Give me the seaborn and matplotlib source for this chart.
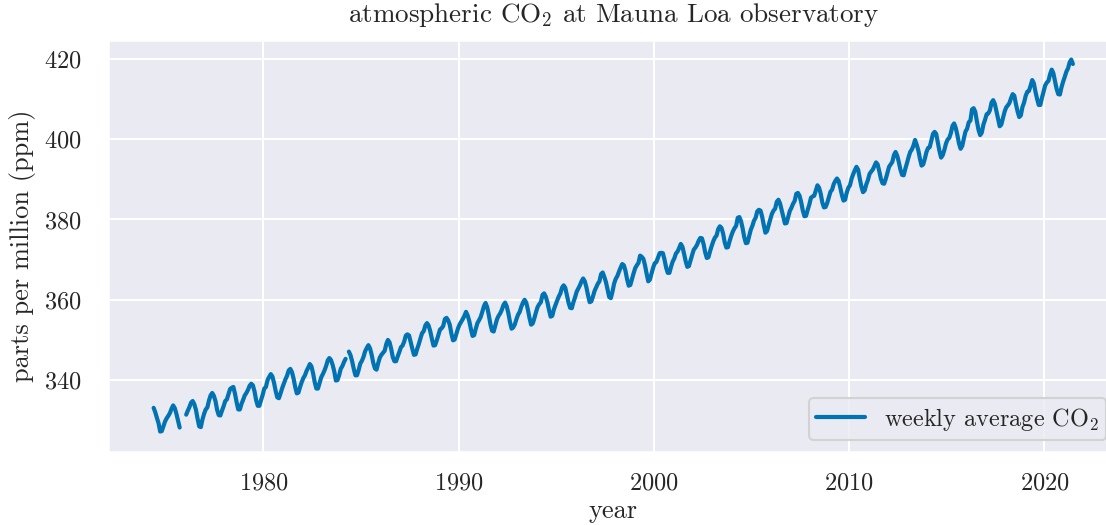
import numpy as np
import pandas as pd
import matplotlib.pyplot as plt
import seaborn as sns

nan = np.nan

# monthly CO2 (ppm), Jan..Dec; NaN = missing weeks
co2_1970s = [
    nan, nan, nan, nan, 333.1, 332.0, 330.6, 329.3, 327.2, 327.3, 328.5, 329.7,  # 1974
    330.5, 331.1, 331.8, 332.9, 333.7, 333.0, 331.6, 329.9, 328.2, nan, nan, nan,  # 1975
    331.4, 332.4, 333.3, 334.4, 334.8, 334.0, 332.6, 330.4, 328.5, 328.3, 330.2, 331.6,  # 1976
    332.7, 333.2, 334.9, 336.2, 336.8, 336.1, 334.8, 332.6, 331.3, 331.2, 332.4, 333.5,  # 1977
    334.8, 335.2, 336.5, 337.8, 338.1, 338.3, 336.6, 334.5, 332.7, 332.7, 334.1, 335.1,  # 1978
    336.2, 336.8, 337.6, 338.6, 339.1, 338.7, 337.2, 335.0, 333.6, 333.6, 335.0, 336.3,  # 1979
]
co2_1980s = [
    337.9, 338.3, 340.0, 340.8, 341.5, 340.9, 339.3, 337.3, 335.7, 335.5, 336.7, 338.0,
    339.1, 340.2, 341.1, 342.4, 342.8, 342.0, 340.4, 338.3, 336.7, 336.9, 338.3, 339.5,
    340.5, 341.2, 342.3, 343.1, 344.0, 343.4, 341.7, 339.5, 337.9, 337.9, 339.3, 340.7,
    341.5, 342.4, 343.5, 344.9, 345.5, 345.0, 343.8, 342.2, 339.9, 340.0, 341.2, 342.8,
    343.5, 344.5, 345.3, nan, 347.1, 346.2, 344.7, 342.8, 341.2, 341.2, 342.5, 344.1,
    344.8, 345.8, 347.2, 348.0, 348.7, 347.9, 346.3, 344.3, 342.9, 342.6, 344.2, 345.6,
    346.3, 346.8, 347.3, 349.0, 350.0, 349.4, 347.8, 345.7, 344.7, 344.7, 345.9, 347.0,
    348.2, 348.6, 349.6, 351.1, 351.4, 351.1, 349.4, 347.8, 346.3, 346.4, 347.8, 349.0,
    350.4, 351.7, 352.2, 353.6, 354.2, 353.6, 352.2, 350.3, 348.6, 348.7, 349.9, 351.2,
    352.6, 352.9, 353.5, 355.2, 355.5, 354.9, 353.8, 351.6, 349.9, 350.1, 351.4, 352.8,
]
co2_1990s = [
    353.8, 354.5, 355.2, 356.0, 357.0, 356.1, 354.7, 352.7, 351.0, 351.2, 352.8, 354.2,
    354.9, 355.7, 357.0, 358.4, 359.2, 358.2, 356.2, 353.9, 352.3, 352.1, 353.6, 355.1,
    356.0, 356.6, 357.5, 358.7, 359.3, 358.4, 356.7, 354.5, 352.8, 353.1, 353.9, 355.2,
    356.3, 357.0, 358.3, 359.3, 360.0, 359.3, 357.6, 355.5, 353.8, 354.1, 355.4, 356.9,
    358.2, 358.9, 359.4, 361.2, 361.6, 360.8, 359.4, 357.5, 355.8, 356.0, 357.6, 358.7,
    359.8, 360.8, 361.6, 363.0, 363.6, 363.0, 361.2, 359.3, 358.0, 357.9, 359.4, 360.6,
    362.0, 362.8, 363.6, 364.6, 365.3, 364.6, 363.1, 361.1, 359.4, 359.6, 360.8, 362.2,
    363.1, 364.0, 364.6, 366.4, 366.8, 365.7, 364.4, 362.6, 360.7, 360.4, 362.0, 364.0,
    365.2, 365.9, 367.0, 368.0, 368.9, 368.6, 367.2, 365.1, 363.5, 363.7, 365.2, 366.6,
    367.9, 368.6, 369.2, 371.0, 370.7, 370.2, 368.6, 366.5, 364.6, 365.0, 366.5, 368.0,
]
co2_2000s = [
    369.1, 369.4, 370.5, 371.6, 371.7, 371.6, 370.0, 368.0, 366.7, 366.7, 368.2, 369.5,
    370.3, 371.5, 372.0, 372.9, 373.9, 373.2, 371.5, 369.6, 368.2, 368.4, 369.8, 371.2,
    372.5, 373.0, 373.7, 374.7, 375.4, 375.3, 373.9, 371.8, 370.4, 370.6, 372.1, 373.4,
    374.6, 375.5, 376.0, 377.6, 378.3, 377.9, 376.5, 374.3, 373.0, 373.1, 374.6, 375.9,
    377.0, 377.8, 378.4, 380.4, 380.6, 379.6, 377.8, 375.6, 374.1, 374.2, 375.8, 377.4,
    378.4, 379.7, 380.4, 382.0, 382.4, 382.2, 380.7, 378.6, 376.7, 377.1, 378.6, 380.0,
    381.4, 382.2, 382.7, 384.4, 384.9, 384.0, 382.3, 380.5, 379.0, 379.1, 380.6, 382.1,
    382.9, 383.9, 384.6, 386.4, 386.6, 385.9, 384.3, 382.2, 380.8, 380.9, 382.4, 383.7,
    385.4, 385.7, 385.9, 387.2, 388.5, 387.9, 386.4, 384.2, 383.0, 383.1, 384.1, 385.5,
    386.9, 387.4, 388.8, 389.6, 390.2, 389.6, 388.0, 386.1, 384.7, 384.9, 386.7, 387.9,
]
co2_2010s = [
    388.5, 390.2, 391.3, 392.3, 393.1, 392.4, 390.2, 388.2, 386.8, 387.2, 388.7, 389.8,
    391.3, 391.9, 392.4, 393.3, 394.2, 393.7, 392.0, 390.1, 389.0, 388.9, 390.1, 391.6,
    393.1, 393.7, 394.3, 396.0, 396.8, 395.9, 394.3, 392.4, 391.1, 391.0, 392.6, 394.0,
    395.5, 396.8, 397.4, 398.4, 399.8, 398.6, 397.2, 395.1, 393.4, 393.7, 395.1, 396.8,
    397.8, 398.0, 399.7, 401.3, 401.8, 401.3, 399.1, 397.0, 395.4, 396.0, 397.3, 398.9,
    399.9, 400.3, 401.5, 403.3, 403.9, 402.8, 401.0, 398.9, 397.6, 398.3, 400.2, 401.9,
    402.6, 404.2, 404.6, 407.4, 407.7, 406.8, 404.4, 402.3, 401.0, 401.6, 403.6, 404.8,
    406.2, 406.4, 407.2, 409.1, 409.7, 408.8, 407.0, 405.1, 403.2, 403.6, 405.2, 406.8,
    407.9, 408.4, 409.0, 410.2, 411.2, 410.8, 408.7, 406.9, 405.5, 405.9, 408.0, 409.1,
    410.8, 411.8, 412.0, 413.3, 414.7, 413.9, 411.8, 410.0, 408.5, 408.5, 410.3, 411.8,
]
co2_2020s = [
    413.4, 414.1, 414.5, 416.2, 417.3, 416.4, 414.4, 412.5, 411.2, 411.1, 412.9, 414.3,
    415.5, 416.8, 417.6, 419.1, 419.8, 418.7,
]

co2 = np.array(co2_1970s + co2_1980s + co2_1990s + co2_2000s + co2_2010s + co2_2020s)
year = 1974 + (np.arange(len(co2)) + 0.5) / 12

df = pd.DataFrame({"year": year, "co2": co2})
# split at missing weeks so the line shows gaps
df["segment"] = df["co2"].isna().cumsum()
df = df.dropna()

sns.set_theme(context="talk", style="darkgrid", palette="colorblind")
plt.rcParams["font.family"] = ["cmr10", "DejaVu Serif"]
plt.rcParams["mathtext.fontset"] = "cm"
plt.rcParams["axes.formatter.use_mathtext"] = True
plt.rcParams["axes.unicode_minus"] = False

fig, ax = plt.subplots(figsize=(11.06, 5.25), dpi=100)
# the axes runs slightly past the right edge of the picture, as in the original
fig.subplots_adjust(left=0.0977, right=1.0114, bottom=0.139, top=0.924)

sns.lineplot(data=df, x="year", y="co2", units="segment", estimator=None,
             color="#0173B2", lw=3.0, label="weekly average CO$_2$", ax=ax)

ax.set_xlim(1972.04, 2023.8)
ax.set_ylim(322.1, 424.7)
ax.set_xticks([1980, 1990, 2000, 2010, 2020])
ax.set_yticks([340, 360, 380, 400, 420])
ax.tick_params(labelsize=17.5)
ax.tick_params(axis="x", pad=6)
ax.tick_params(axis="y", pad=10)
ax.set_xlabel("year", fontsize=19, labelpad=3)
ax.set_ylabel("parts per million (ppm)", fontsize=19, labelpad=6)
ax.set_title("atmospheric CO$_2$ at Mauna Loa observatory", fontsize=19.5, pad=13)

handles, labels = ax.get_legend_handles_labels()
ax.legend(handles[:1], labels[:1], loc="lower right", fontsize=17.5, borderpad=0.3)

fig.savefig("out.png", dpi=100)
